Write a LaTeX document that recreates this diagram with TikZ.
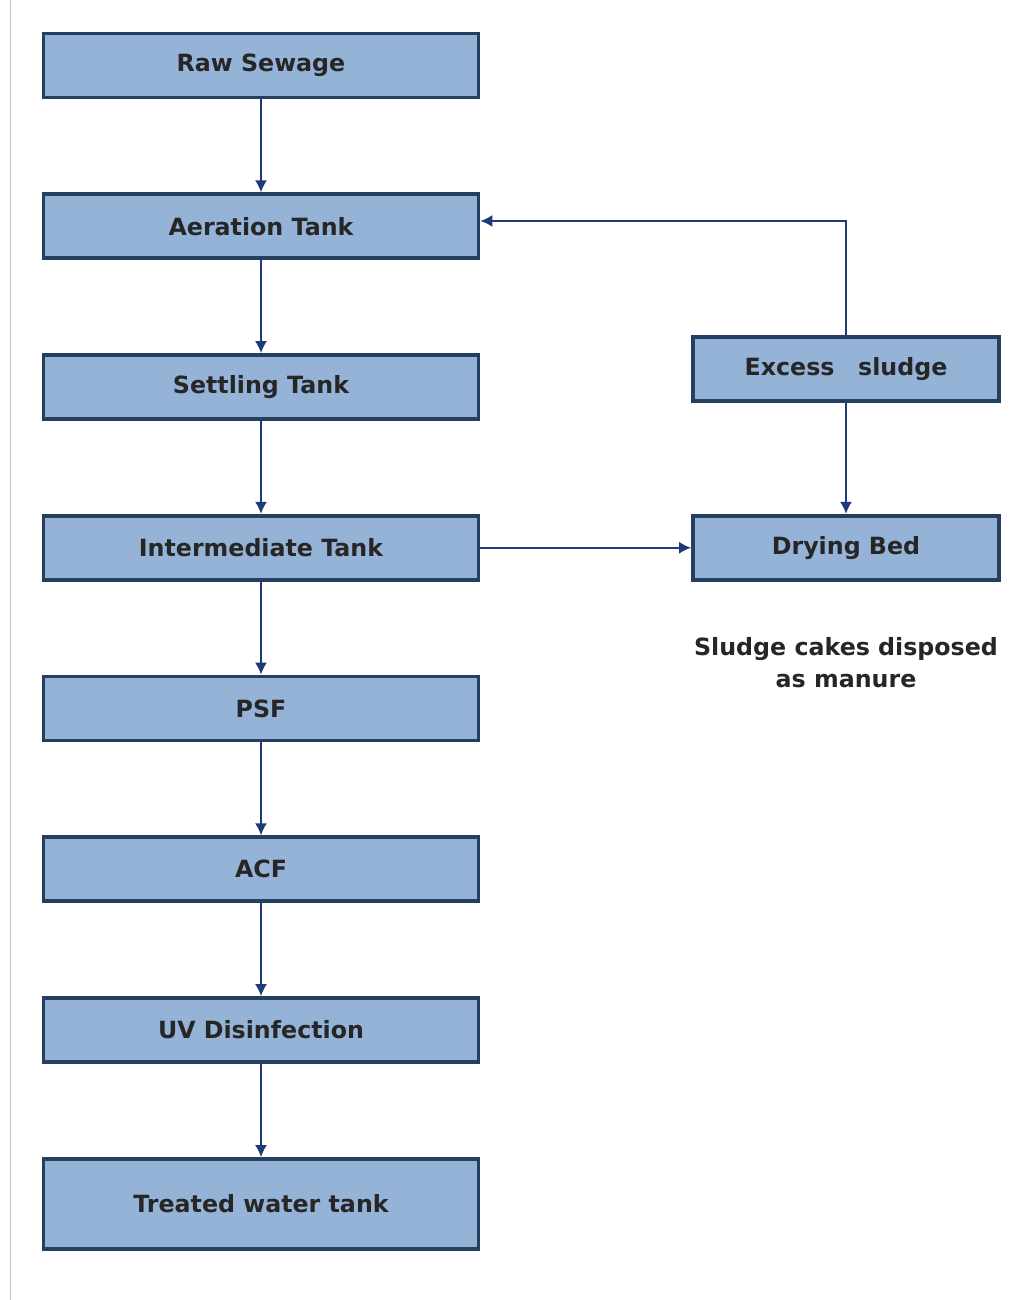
\documentclass[tikz,border=0pt]{standalone}
\usepackage{fontspec}
\setmainfont{DejaVu Sans}
\usetikzlibrary{arrows.meta}
\usetikzlibrary{positioning}
\definecolor{tankfill}{HTML}{95B3D7}
\definecolor{tankline}{HTML}{243F60}
\definecolor{flowline}{HTML}{1F3A7A}

\begin{document}
\begin{tikzpicture}[>={Latex[length=2.4mm,width=2.4mm]}, node distance=3.215cm, on grid, auto,
  tank/.style={draw=tankline, line width=2.2pt, fill=tankfill,
    minimum width=8.7cm, minimum height=1.28cm,
    font=\bfseries\fontsize{13.5}{15}\selectfont, text=black!85},
  flow/.style={->, color=flowline, line width=0.9pt}]

       \useasboundingbox (0,0) rectangle (20.62,-26);
       \draw[black!25, line width=0.4pt] (0.2,0) -- (0.2,-26);

       \node[tank] (Raw_Sewage) at (5.22,-1.31) {Raw Sewage};
       \node[tank, below=of Raw_Sewage] (Aeration) {Aeration Tank};
       \path[flow] (Raw_Sewage) edge (Aeration);
       \node[tank, below=of Aeration] (Settling) {Settling Tank};
       \path[flow] (Aeration) edge (Settling);
       \node[tank, below=of Settling] (Intermediate) {Intermediate Tank};
       \path[flow] (Settling) edge (Intermediate);
       \node[tank, below=of Intermediate] (PSF) {PSF};
       \path[flow] (Intermediate) edge (PSF);
       \node[tank, below=of PSF] (ACF) {ACF};
       \path[flow] (PSF) edge (ACF);
       \node[tank, below=of ACF] (UV) {UV Disinfection};
       \path[flow] (ACF) edge (UV);
       \node[tank, below=3.48 of UV, minimum height=1.8cm] (Treated) {Treated water tank};
       \path[flow] (UV) edge (Treated);

       \node[tank, right=11.7 of Intermediate, minimum width=6.12cm] (Drying_Bed) {Drying Bed};
       \path[flow] (Intermediate) edge (Drying_Bed);
       \node[tank, above=3.57 of Drying_Bed, minimum width=6.12cm] (Excess_Sludge) {Excess\quad sludge};
       \path[flow] (Excess_Sludge) edge (Drying_Bed);
       \draw[flow] (Excess_Sludge.north) |- ([yshift=3pt]Aeration.east);
       \node[below=2.3 of Drying_Bed, align=center, text=black!85,
       font=\bfseries\fontsize{13.5}{18}\selectfont] (cakes) {Sludge cakes disposed\\as manure};

\end{tikzpicture}
\end{document}
